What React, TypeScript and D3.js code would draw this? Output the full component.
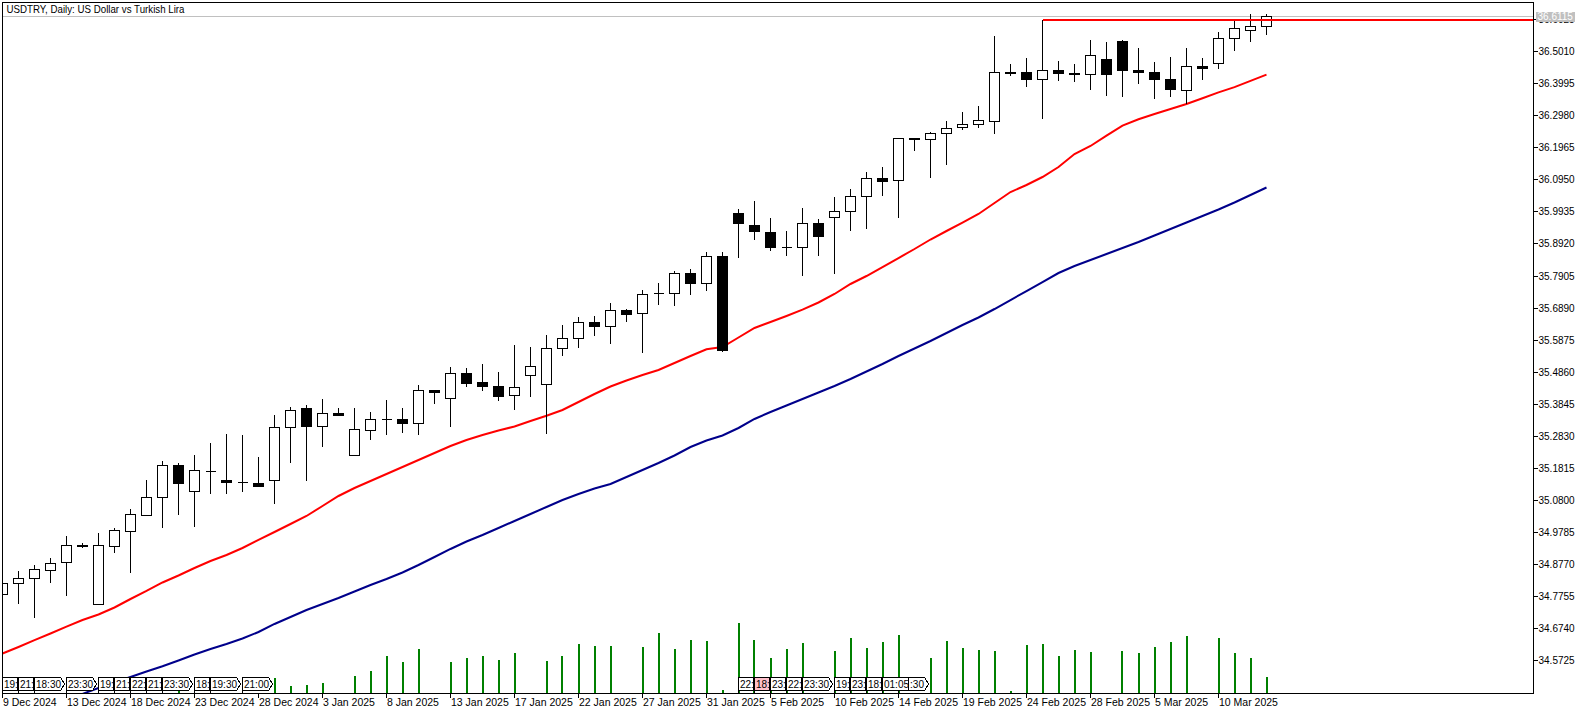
import React from "react";
import * as d3 from "d3";

const W = 1586;
const H = 714;

const titleText = "USDTRY, Daily:  US Dollar vs Turkish Lira";

const opens = [34.7827,34.8175,34.8334,34.8574,34.8840,34.9379,34.7511,34.9347,34.9822,35.0329,35.0899,35.1912,35.1076,35.1731,35.1437,35.1361,35.1342,35.1437,35.3115,35.3717,35.3141,35.3559,35.2229,35.3020,35.3369,35.3369,35.3242,35.4287,35.4021,35.4825,35.4540,35.4414,35.4129,35.4762,35.4477,35.5617,35.5934,35.6440,35.6313,35.6820,35.6725,35.7358,35.7358,35.7992,35.7675,35.8530,35.9892,35.9512,35.9290,35.8815,35.8815,35.9575,35.9765,35.9955,36.0430,36.1000,36.0937,36.2267,36.2235,36.2425,36.2615,36.2710,36.2805,36.4357,36.4357,36.4135,36.4420,36.4325,36.4293,36.4768,36.5338,36.4420,36.4357,36.4135,36.3787,36.4547,36.4642,36.5433,36.5687,36.5813];
const highs = [34.8280,34.8565,34.8755,34.8967,34.9673,34.9442,34.9768,34.9917,35.0519,35.1447,35.2048,35.1975,35.2238,35.2618,35.2903,35.2872,35.2175,35.3505,35.3749,35.3812,35.4011,35.3717,35.3717,35.3590,35.3970,35.3717,35.4445,35.4287,35.5015,35.4984,35.5110,35.4857,35.5721,35.5658,35.6038,35.6355,35.6608,35.6640,35.7042,35.6852,35.7453,35.7675,35.8055,35.8118,35.8657,35.8657,36.0018,36.0272,35.9733,35.9322,36.0050,35.9702,36.0398,36.0652,36.1190,36.1348,36.2267,36.2267,36.2457,36.2805,36.3090,36.3280,36.5497,36.4610,36.4800,36.6022,36.4705,36.4610,36.5370,36.5307,36.5370,36.5117,36.4673,36.4832,36.5117,36.4800,36.5623,36.6003,36.6203,36.6203];
const lows = [34.7742,34.7530,34.7067,34.8194,34.7783,34.9303,34.7511,34.9144,34.8511,35.0329,34.9936,35.0348,34.9968,35.1003,35.1003,35.1076,35.1234,35.0696,35.1994,35.1424,35.2476,35.3483,35.2229,35.2723,35.2881,35.2944,35.2881,35.3863,35.3134,35.4401,35.4274,35.3958,35.3673,35.4084,35.2913,35.5383,35.5636,35.6016,35.5763,35.6459,35.5478,35.6988,35.6966,35.7314,35.7441,35.5490,35.8486,35.9056,35.8707,35.8549,35.7916,35.8549,35.7979,35.9341,35.9404,36.0449,35.9752,36.1874,36.1019,36.1412,36.2520,36.2583,36.2393,36.4230,36.3882,36.2868,36.4072,36.4040,36.3787,36.3597,36.3565,36.3977,36.3502,36.3565,36.3343,36.4103,36.4452,36.5022,36.5307,36.5528];
const closes = [34.8175,34.8334,34.8619,34.8809,34.9379,34.9341,34.9379,34.9854,35.0360,35.0899,35.1912,35.1329,35.1754,35.1731,35.1361,35.1361,35.1234,35.3115,35.3654,35.3134,35.3559,35.3483,35.3052,35.3369,35.3369,35.3229,35.4287,35.4211,35.4825,35.4496,35.4401,35.4084,35.4382,35.5047,35.5617,35.5934,35.6440,35.6313,35.6820,35.6694,35.7327,35.7358,35.7992,35.7675,35.8530,35.5554,35.9575,35.9322,35.8815,35.8815,35.9575,35.9163,35.9955,36.0430,36.1000,36.0905,36.2267,36.2222,36.2425,36.2583,36.2710,36.2837,36.4357,36.4312,36.4135,36.4420,36.4325,36.4281,36.4895,36.4293,36.4420,36.4357,36.4135,36.3818,36.4547,36.4483,36.5433,36.5750,36.5813,36.6115];

const volumes = [0,0,0,0,0,0,0,0,0,0,0,2,0,0,0,0,0,15,7,8,10,0,17,22,37,31,44,0,31,35,37,33,40,0,32,37,49,47,47,0,46,60,44,53,52,3,70,53,35,44,50,0,42,55,45,51,58,0,35,52,45,43,42,2,48,49,37,43,41,0,42,40,46,51,57,0,55,40,35,16];

const maFast = [34.5953,34.6158,34.6374,34.6586,34.6801,34.7013,34.7187,34.7409,34.7678,34.7932,34.8201,34.8423,34.8660,34.8882,34.9072,34.9293,34.9547,34.9800,35.0053,35.0307,35.0623,35.0940,35.1193,35.1415,35.1636,35.1858,35.2080,35.2302,35.2523,35.2713,35.2871,35.3014,35.3141,35.3315,35.3483,35.3663,35.3916,35.4170,35.4407,35.4597,35.4771,35.4930,35.5151,35.5373,35.5585,35.5658,35.5959,35.6260,35.6450,35.6640,35.6839,35.7067,35.7336,35.7653,35.7906,35.8191,35.8476,35.8761,35.9062,35.9331,35.9600,35.9870,36.0218,36.0566,36.0788,36.1041,36.1358,36.1769,36.2023,36.2349,36.2669,36.2871,36.3036,36.3194,36.3353,36.3536,36.3720,36.3888,36.4087,36.4281];

const maSlow = [null,null,null,null,null,34.4673,34.4860,34.5034,34.5208,34.5382,34.5547,34.5731,34.5921,34.6095,34.6253,34.6427,34.6633,34.6887,34.7108,34.7330,34.7520,34.7710,34.7916,34.8122,34.8312,34.8517,34.8755,34.9008,34.9262,34.9499,34.9705,34.9927,35.0148,35.0370,35.0592,35.0813,35.1003,35.1177,35.1320,35.1542,35.1763,35.1985,35.2222,35.2491,35.2697,35.2856,35.3093,35.3378,35.3600,35.3806,35.4011,35.4217,35.4423,35.4645,35.4882,35.5120,35.5373,35.5611,35.5848,35.6101,35.6355,35.6592,35.6861,35.7146,35.7431,35.7716,35.8001,35.8223,35.8413,35.8603,35.8793,35.8983,35.9189,35.9395,35.9600,35.9806,36.0012,36.0234,36.0471,36.0709];

const priceTicks = [36.6025,36.5010,36.3995,36.2980,36.1965,36.0950,35.9935,35.8920,35.7905,35.6890,35.5875,35.4860,35.3845,35.2830,35.1815,35.0800,34.9785,34.8770,34.7755,34.6740,34.5725];

const dateLabels = ["9 Dec 2024","13 Dec 2024","18 Dec 2024","23 Dec 2024","28 Dec 2024","3 Jan 2025","8 Jan 2025","13 Jan 2025","17 Jan 2025","22 Jan 2025","27 Jan 2025","31 Jan 2025","5 Feb 2025","10 Feb 2025","14 Feb 2025","19 Feb 2025","24 Feb 2025","28 Feb 2025","5 Mar 2025","10 Mar 2025"];
const dateLabelStep = 4;

const currentPrice = 36.6115;
const levelPrice = 36.6022;
const levelStartBar = 65;

const eventBars = [0,1,2,4,6,7,8,9,10,12,13,15,46,47,48,49,50,52,53,54,55,56];
const eventLabels = ["19:","21:","18:30","23:30","19:","21:","22:","21:","23:30","18:","19:30","21:00","22:","18:","23:","22:","23:30","19:","23:","18:","01:05",":30"];
const eventArrow = [false,false,true,true,false,false,false,false,true,false,true,true,false,false,false,false,true,false,false,false,false,true];
const eventHighlight = [false,false,false,false,false,false,false,false,false,false,false,false,false,true,false,false,false,false,false,false,false,false];

const FONT = "'Liberation Sans', Arial, sans-serif";

export default function App() {
  const frame = { l: 2.5, r: 1533.5, t: 2.5, b: 693.5 };
  const x = d3.scaleLinear().domain([0, closes.length - 1]).range([2.5, 2.5 + 16 * (closes.length - 1)]);
  const y = d3.scaleLinear().domain([34.5725, 36.501]).range([660.67, 51.67]);
  const v = d3.scaleLinear().domain([0, 100]).range([693, 593]);
  const crisp = (n: number) => Math.round(n) + 0.5;

  const fastLine = d3.line<number>().x((_, i) => x(i)).y((d) => y(d))(maFast) || "";
  const slowLine = d3
    .line<number | null>()
    .defined((d) => d != null)
    .x((_, i) => x(i))
    .y((d) => y(d as number))(maSlow) || "";

  const candles = closes.map((c, i) => {
    const o = opens[i];
    const cx = x(i);
    const top = crisp(y(Math.max(o, c)) - 0.5);
    const bot = crisp(y(Math.min(o, c)) - 0.5);
    const bear = c < o;
    return (
      <g key={i}>
        <line x1={cx} x2={cx} y1={y(highs[i])} y2={y(lows[i])} stroke="#000" strokeWidth={1} />
        <path
          d={`M${cx - 5},${top}H${cx + 5}V${bot}H${cx - 5}Z`}
          fill={bear ? "#000" : "#fff"}
          stroke="#000"
          strokeWidth={1}
        />
      </g>
    );
  });

  const volBars = volumes.map((vv, i) =>
    vv > 0 ? (
      <rect key={i} x={Math.round(x(i)) - 1} y={v(vv)} width={2} height={v(0) - v(vv)} fill="#008000" />
    ) : null
  );

  const boxTop = 677.5;
  const boxBot = 690.5;
  const events = eventBars
    .map((b, k) => {
      const x0 = x(b);
      const lab = eventLabels[k];
      const partial = lab.startsWith(":");
      const w = lab.length <= 3 && !partial ? 15 : 26;
      const x1 = x0 + w;
      const mid = (boxTop + boxBot) / 2;
      const d = eventArrow[k]
        ? `M${x0},${boxTop}H${x1}L${x1 + 4},${mid}L${x1},${boxBot}H${x0}Z`
        : `M${x0},${boxTop}H${x1}V${boxBot}H${x0}Z`;
      return (
        <g key={k}>
          <line x1={x0} x2={x0} y1={boxBot} y2={693} stroke="#000" />
          <path d={d} fill={eventHighlight[k] ? "#ffc0cb" : "#fff"} stroke="#000" strokeWidth={1} />
          <text
            x={partial ? x1 - 0.5 : x0 + 1.5}
            y={boxBot - 3}
            fontSize={10}
            fontFamily={FONT}
            fill="#000"
            textAnchor={partial ? "end" : "start"}
          >
            {lab}
          </text>
        </g>
      );
    })
    .reverse();

  const yCur = Math.floor(y(currentPrice)) + 0.5;
  const yLevel = y(levelPrice);

  return (
    <svg
      width={W}
      height={H}
      style={{ position: "absolute", left: 0, top: 0, background: "#fff" }}
      xmlns="http://www.w3.org/2000/svg"
    >
      <defs>
        <clipPath id="plotClip">
          <rect x={frame.l} y={frame.t} width={frame.r - frame.l} height={frame.b - frame.t} />
        </clipPath>
      </defs>
      <rect x={0} y={0} width={W} height={H} fill="#fff" />

      <g clipPath="url(#plotClip)">
        <line x1={frame.l} x2={frame.r} y1={yCur} y2={yCur} stroke="#c0c0c0" strokeWidth={1} shapeRendering="crispEdges" />
        <g shapeRendering="crispEdges">{volBars}</g>
        <path d={slowLine} fill="none" stroke="#00008b" strokeWidth={2} />
        <path d={fastLine} fill="none" stroke="#ff0000" strokeWidth={2} />
        <g shapeRendering="crispEdges">{candles}</g>
        <line x1={x(levelStartBar)} x2={frame.r} y1={yLevel} y2={yLevel} stroke="#ff0000" strokeWidth={2} shapeRendering="crispEdges" />
        <g shapeRendering="crispEdges">{events}</g>
      </g>

      <text x={6.5} y={13} fontSize={10.5} fontFamily={FONT} fill="#000" textLength={178} lengthAdjust="spacingAndGlyphs">
        {titleText}
      </text>

      <rect
        x={frame.l}
        y={frame.t}
        width={frame.r - frame.l}
        height={frame.b - frame.t}
        fill="none"
        stroke="#000"
        strokeWidth={1}
        shapeRendering="crispEdges"
      />

      <g shapeRendering="crispEdges">
        {priceTicks.map((p) => (
          <g key={p}>
            <line x1={frame.r} x2={frame.r + 4} y1={crisp(y(p) - 0.5)} y2={crisp(y(p) - 0.5)} stroke="#000" />
            <text x={frame.r + 5} y={y(p)} dy="0.35em" fontSize={10} fontFamily={FONT} fill="#000">
              {p.toFixed(4)}
            </text>
          </g>
        ))}
      </g>

      <rect x={1536} y={yCur - 4.5} width={39} height={10} fill="#c0c0c0" />
      <text x={1537.5} y={yCur} dy="0.35em" fontSize={10} fontFamily={FONT} fill="#fff">
        {currentPrice.toFixed(4)}
      </text>

      <g>
        {dateLabels.map((lab, k) => {
          const xi = x(k * dateLabelStep);
          return (
            <g key={lab}>
              <line x1={xi} x2={xi} y1={frame.b} y2={frame.b + 4} stroke="#000" shapeRendering="crispEdges" />
              <text x={xi + 0.5} y={706} fontSize={10.5} fontFamily={FONT} fill="#000">
                {lab}
              </text>
            </g>
          );
        })}
      </g>
    </svg>
  );
}
